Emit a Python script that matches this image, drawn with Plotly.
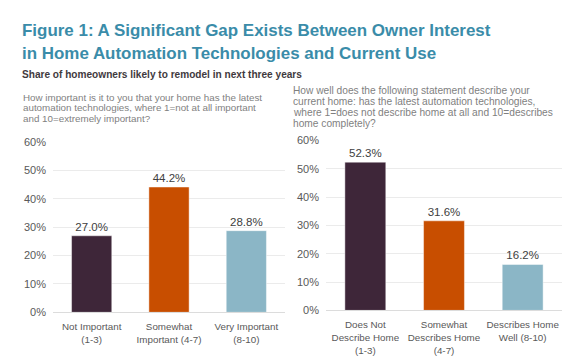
import plotly.graph_objects as go

# ---- data ----
left_categories = ["Not Important<br>(1-3)", "Somewhat<br>Important (4-7)", "Very Important<br>(8-10)"]
left_values = [27.0, 44.2, 28.8]
right_categories = ["Does Not<br>Describe Home<br>(1-3)", "Somewhat<br>Describes Home<br>(4-7)", "Describes Home<br>Well (8-10)"]
right_values = [52.3, 31.6, 16.2]
bar_colors = ["#3E2639", "#C84E00", "#8BB6C6"]
y_ticks = [0, 10, 20, 30, 40, 50, 60]

title_line1 = "Figure 1: A Significant Gap Exists Between Owner Interest"
title_line2 = "in Home Automation Technologies and Current Use"
subtitle = "Share of homeowners likely to remodel in next three years"
left_question = ["How important is it to you that your home has the latest",
                 "automation technologies, where 1=not at all important",
                 "and 10=extremely important?"]
right_question = ["How well does the following statement describe your",
                  "current home: has the latest automation technologies,",
                  "where 1=does not describe home at all and 10=describes",
                  "home completely?"]

FONT = "Liberation Sans, Arial, sans-serif"
W, H = 576, 356

fig = go.Figure()
for cats, vals, xa, ya in [(left_categories, left_values, "x", "y"), (right_categories, right_values, "x2", "y2")]:
    fig.add_trace(go.Bar(x=cats, y=vals,
                         marker=dict(color=bar_colors, line=dict(color="rgba(255,255,255,0.45)", width=1)),
                         width=0.52, texttemplate="%{y:.1f}%", textposition="outside", cliponaxis=False,
                         textfont=dict(size=11.5, color="#404040", family=FONT), xaxis=xa, yaxis=ya,
                         hoverinfo="skip"))

def py(px):
    return 1 - px / H

def px_x(px):
    return px / W

yax = dict(range=[0, 60], tickvals=y_ticks, ticktext=[f"{v}%" for v in y_ticks], showgrid=True, gridcolor="#EBEBEB",
           gridwidth=1, zeroline=False, showline=False, ticks="", ticklabelstandoff=6,
           tickfont=dict(size=11, color="#595959", family=FONT), fixedrange=True)
xax = dict(showline=True, linecolor="#DCDCDC", linewidth=1, ticks="", showgrid=False, ticklabelstandoff=5,
           tickfont=dict(size=9.8, color="#595959", family=FONT), fixedrange=True)

fig.update_layout(
    width=W, height=H, margin=dict(l=0, r=0, t=0, b=0),
    paper_bgcolor="white", plot_bgcolor="white", showlegend=False,
    xaxis=dict(domain=[px_x(53), px_x(285)], anchor="y", **xax),
    yaxis=dict(domain=[py(317), py(141)], anchor="x", **yax),
    xaxis2=dict(domain=[px_x(326), px_x(562)], anchor="y2", **xax),
    yaxis2=dict(domain=[py(315), py(139)], anchor="x2", **yax),
)

annotations = []
def text(t, x, y, size, color, bold=False):
    annotations.append(dict(text=f"<b>{t}</b>" if bold else t, x=px_x(x), y=py(y), xref="paper", yref="paper",
                            xanchor="left", yanchor="middle", showarrow=False,
                            font=dict(size=size, color=color, family=FONT)))

text(title_line1, 20, 25.5, 16.95, "#3A8CA9", bold=True)
text(title_line2, 20, 49, 16.95, "#3A8CA9", bold=True)
text(subtitle, 20, 71, 10.1, "#3F3A3E", bold=True)
for i, line in enumerate(left_question):
    text(line, 21, 94.5 + i * 11, 9.8, "#7F7F7F")
for i, line in enumerate(right_question):
    text(line, 291, 87 + i * 11.5, 10.2, "#7F7F7F")

fig.update_layout(annotations=annotations)
fig.write_html("out.html", config={"displayModeBar": False},
               post_script="document.body.style.margin='0';document.body.style.overflow='hidden';")
